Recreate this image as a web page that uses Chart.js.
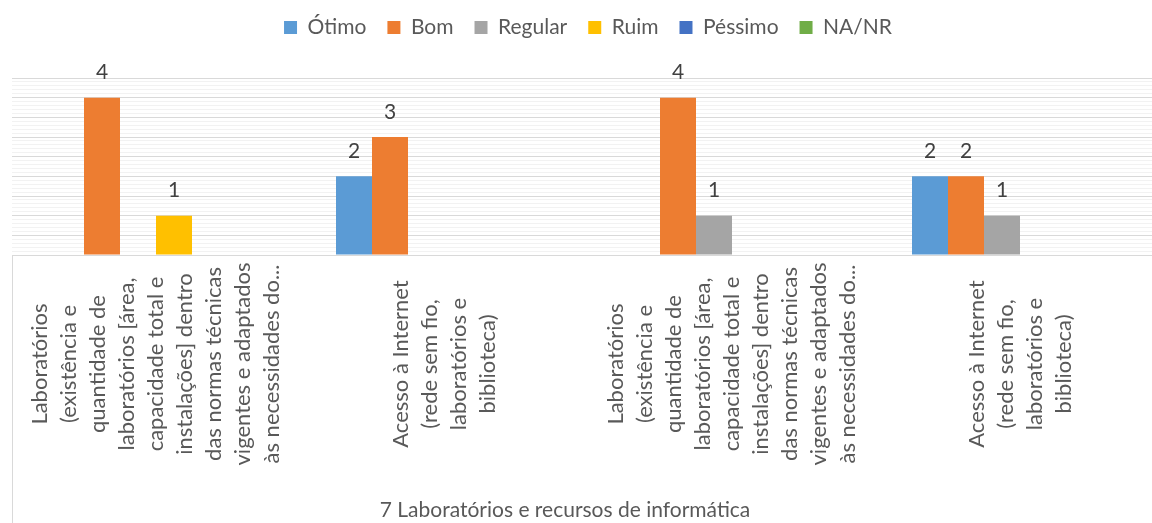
<!DOCTYPE html>
<html>
<head>
<meta charset="utf-8">
<title>Laboratórios e recursos de informática</title>
<script src="https://cdn.jsdelivr.net/npm/chart.js@4.4.0/dist/chart.umd.min.js"></script>
<style>
  html, body { margin: 0; padding: 0; background: #fff; overflow: hidden; }
  #wrap { width: 1176px; height: 523px; position: relative; }
</style>
</head>
<body>
<div id="wrap"><canvas id="grafico"></canvas></div>
<script>
const labLinhas = ["Laboratórios", "(existência e", "quantidade de", "laboratórios [área,",
  "capacidade total e", "instalações] dentro", "das normas técnicas",
  "vigentes e adaptados", "às necessidades do..."];
const netLinhas = ["Acesso à Internet", "(rede sem fio,", "laboratórios e", "biblioteca)"];
const categorias = [labLinhas, netLinhas, labLinhas, netLinhas];

const otimo   = [null, 2, null, 2];
const bom     = [4, 3, 4, 2];
const regular = [null, null, 1, 1];
const ruim    = [1, null, null, null];
const pessimo = [null, null, null, null];
const naNr    = [null, null, null, null];

const series = ["Ótimo", "Bom", "Regular", "Ruim", "Péssimo", "NA/NR"];
const cores = ["#5B9BD5", "#ED7D31", "#A5A5A5", "#FFC000", "#4472C4", "#70AD47"];
const tituloEixo = "7 Laboratórios e recursos de informática";

Chart.defaults.font.family = "Lato";

// altura fixa da legenda para posicionar a área do gráfico
const alturaLegenda = {
  id: "alturaLegenda",
  beforeInit(chart) {
    const fitOriginal = chart.legend.fit;
    chart.legend.fit = function () {
      fitOriginal.bind(chart.legend)();
      this.height = 82;
    };
  }
};

// rótulos das categorias, título do eixo e valores das barras
const rotulos = {
  id: "rotulos",
  afterDraw(chart) {
    const ctx = chart.ctx;
    const eixoX = chart.scales.x;
    const area = chart.chartArea;
    ctx.save();
    ctx.strokeStyle = "#d9d9d9";
    ctx.lineWidth = 1;
    ctx.beginPath();
    ctx.moveTo(area.left + 0.5, area.bottom);
    ctx.lineTo(area.left + 0.5, chart.height);
    ctx.stroke();

    ctx.fillStyle = "#595959";
    ctx.font = "22px Lato";
    ctx.textAlign = "center";
    ctx.textBaseline = "middle";
    categorias.forEach((linhas, i) => {
      const cx = eixoX.getPixelForTick(i);
      const inicio = cx - (linhas.length - 1) * 29 / 2;
      linhas.forEach((txt, j) => {
        ctx.save();
        ctx.translate(inicio + j * 29, 364);
        ctx.rotate(-Math.PI / 2);
        ctx.fillText(txt, 0, 0);
        ctx.restore();
      });
    });
    ctx.font = "21px Lato";
    ctx.fillText(tituloEixo, 565, 510);

    ctx.fillStyle = "#404040";
    ctx.font = "21px Lato";
    chart.data.datasets.forEach((ds, i) => {
      chart.getDatasetMeta(i).data.forEach((barra, j) => {
        const v = ds.data[j];
        if (v == null) return;
        ctx.fillText(String(v), barra.x, barra.y - 25);
      });
    });
    ctx.restore();
  }
};

const valores = [otimo, bom, regular, ruim, pessimo, naNr];

new Chart("grafico", {
  type: "bar",
  data: {
    labels: categorias,
    datasets: series.map((nome, i) => ({
      label: nome,
      data: valores[i],
      backgroundColor: cores[i],
      borderWidth: 0,
      barPercentage: 1,
      categoryPercentage: 0.75
    }))
  },
  options: {
    responsive: true,
    maintainAspectRatio: false,
    animation: false,
    devicePixelRatio: 1,
    layout: { padding: { top: -4, left: 12, right: 12, bottom: 0 } },
    plugins: {
      tooltip: { enabled: false },
      legend: {
        position: "top",
        labels: {
          boxWidth: 13,
          boxHeight: 13,
          padding: 21,
          color: "#595959",
          font: { family: "Lato", size: 21 }
        }
      }
    },
    scales: {
      x: {
        grid: { display: false },
        border: { color: "#d9d9d9" },
        ticks: { display: false },
        afterFit(scale) { scale.height = 268; }
      },
      y: {
        min: 0,
        max: 4.5,
        ticks: { display: false, stepSize: 0.1, maxTicksLimit: 100 },
        grid: {
          drawTicks: false,
          color(c) {
            const v = c.tick ? c.tick.value : 0;
            return Math.abs(v * 2 - Math.round(v * 2)) < 1e-6 ? "#d9d9d9" : "#f2f2f2";
          }
        },
        border: { display: false },
        afterFit(scale) { scale.width = 0; }
      }
    }
  },
  plugins: [alturaLegenda, rotulos]
});
</script>
</body>
</html>
